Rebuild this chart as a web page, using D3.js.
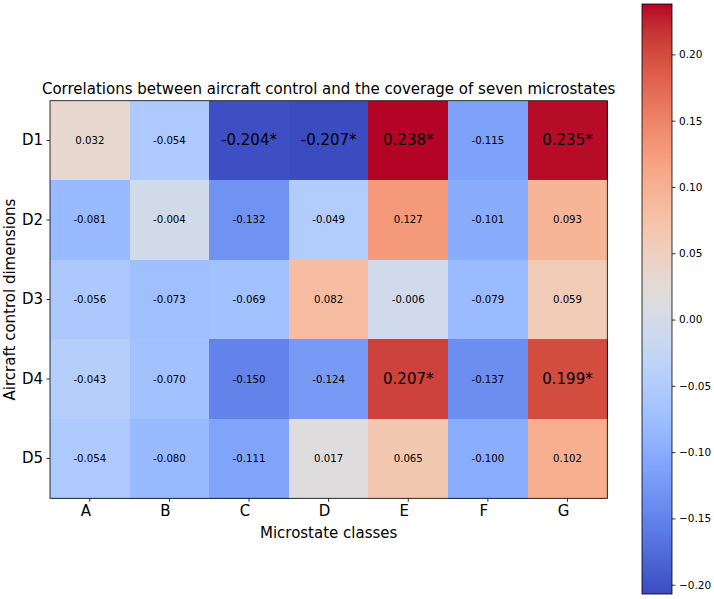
<!DOCTYPE html>
<html><head><meta charset="utf-8">
<script src="https://cdn.jsdelivr.net/npm/d3@7"></script>
<style>body{margin:0;background:#fff;} text{font-family:"DejaVu Sans",sans-serif;fill:#000;}</style>
</head><body>
<svg id="chart" width="714" height="599"></svg>
<script>
const columns = ["A","B","C","D","E","F","G"];
const rows = ["D1","D2","D3","D4","D5"];
const valuesD1 = [0.032,-0.054,-0.204,-0.207,0.238,-0.115,0.235];
const valuesD2 = [-0.081,-0.004,-0.132,-0.049,0.127,-0.101,0.093];
const valuesD3 = [-0.056,-0.073,-0.069,0.082,-0.006,-0.079,0.059];
const valuesD4 = [-0.043,-0.070,-0.150,-0.124,0.207,-0.137,0.199];
const valuesD5 = [-0.054,-0.080,-0.111,0.017,0.065,-0.100,0.102];
const signifD1 = [0,0,1,1,1,0,1];
const signifD2 = [0,0,0,0,0,0,0];
const signifD3 = [0,0,0,0,0,0,0];
const signifD4 = [0,0,0,0,1,0,1];
const signifD5 = [0,0,0,0,0,0,0];
const colorbarTicks = [-0.20,-0.15,-0.10,-0.05,0.00,0.05,0.10,0.15,0.20];
const titleText = "Correlations between aircraft control and the coverage of seven microstates";
const xLabel = "Microstate classes";
const yLabel = "Aircraft control dimensions";

const allValues = [valuesD1,valuesD2,valuesD3,valuesD4,valuesD5];
const allSignif = [signifD1,signifD2,signifD3,signifD4,signifD5];
const cells = [];
rows.forEach((r,i)=>columns.forEach((c,j)=>cells.push({row:r,col:c,v:allValues[i][j],sig:allSignif[i][j]})));
const vmin = d3.min(cells,d=>d.v), vmax = d3.max(cells,d=>d.v);

// coolwarm (Moreland) table
const cw = [[59,76,192],[68,90,204],[77,104,215],[87,117,225],[98,130,234],[108,142,241],[119,154,247],[130,165,251],[141,176,254],[152,185,255],[163,194,255],[174,201,253],[184,208,249],[194,213,244],[204,217,238],[213,219,230],[221,221,221],[229,216,209],[236,211,197],[241,204,184],[245,196,172],[247,187,159],[247,177,147],[247,166,134],[244,154,123],[241,141,111],[236,127,99],[229,112,88],[222,96,77],[213,80,66],[203,62,56],[192,40,47],[180,4,38]];
const cwInterp = d3.piecewise(d3.interpolateRgb, cw.map(c=>`rgb(${c[0]},${c[1]},${c[2]})`));
const color = d3.scaleSequential(cwInterp).domain([vmin,vmax]);

const svg = d3.select("#chart");
const L=50, R=607.3, T=100.7, B=498.3;
const x = d3.scaleBand().domain(columns).range([L,R]);
const y = d3.scaleBand().domain(rows).range([T,B]);

svg.append("g").selectAll("rect").data(cells).join("rect")
  .attr("x",d=>x(d.col)).attr("y",d=>y(d.row))
  .attr("width",x.bandwidth()+0.5).attr("height",y.bandwidth()+0.5)
  .attr("fill",d=>color(d.v)).attr("shape-rendering","crispEdges");

svg.append("g").selectAll("text").data(cells).join("text")
  .attr("x",d=>x(d.col)+x.bandwidth()/2).attr("y",d=>y(d.row)+y.bandwidth()/2)
  .attr("text-anchor","middle").attr("dominant-baseline","central")
  .style("font-size",d=>d.sig?"15px":"10.2px")
  .text(d=>d.v.toFixed(3)+(d.sig?"*":""));

svg.append("rect").attr("x",L).attr("y",T).attr("width",R-L).attr("height",B-T)
  .attr("fill","none").attr("stroke","#000").attr("stroke-width",0.8);

const xAxis = svg.append("g").attr("transform",`translate(0,${B})`)
  .call(d3.axisBottom(x).tickSize(3.5).tickPadding(4));
const yAxis = svg.append("g").attr("transform",`translate(${L},0)`)
  .call(d3.axisLeft(y).tickSize(3.5).tickPadding(3.5));
[xAxis,yAxis].forEach(a=>{a.select(".domain").remove();a.selectAll("text").style("font-size","15px").style("font-family","DejaVu Sans");a.selectAll("line").attr("stroke","#000").attr("stroke-width",0.8);});
xAxis.selectAll("text").attr("dx",-4);

svg.append("text").attr("x",(L+R)/2).attr("y",T-7).attr("text-anchor","middle").style("font-size","15px").text(titleText);
svg.append("text").attr("x",(L+R)/2).attr("y",538).attr("text-anchor","middle").style("font-size","15px").text(xLabel);
svg.append("text").attr("transform",`translate(15,${(T+B)/2}) rotate(-90)`).attr("text-anchor","middle").style("font-size","15px").text(yLabel);

// colorbar
const cbX=642, cbW=30, cbT=4, cbB=594;
const cy = d3.scaleLinear().domain([vmin,vmax]).range([cbB,cbT]);
const defs = svg.append("defs");
const grad = defs.append("linearGradient").attr("id","cbgrad").attr("x1",0).attr("y1",1).attr("x2",0).attr("y2",0);
d3.range(0,1.0001,0.02).forEach(t=>grad.append("stop").attr("offset",t).attr("stop-color",cwInterp(t)));
svg.append("rect").attr("x",cbX).attr("y",cbT).attr("width",cbW).attr("height",cbB-cbT).attr("fill","url(#cbgrad)");
svg.append("rect").attr("x",cbX).attr("y",cbT).attr("width",cbW).attr("height",cbB-cbT).attr("fill","none").attr("stroke","#000").attr("stroke-width",0.8);
const cbAxis = svg.append("g").attr("transform",`translate(${cbX+cbW},0)`)
  .call(d3.axisRight(cy).tickValues(colorbarTicks).tickSize(3.5).tickPadding(3.5).tickFormat(d=>d3.format(".2f")(d).replace("-","\u2212")));
cbAxis.select(".domain").remove();
cbAxis.selectAll("text").style("font-size","10.5px").style("font-family","DejaVu Sans");
cbAxis.selectAll("line").attr("stroke","#000").attr("stroke-width",0.8);
</script>
</body></html>
